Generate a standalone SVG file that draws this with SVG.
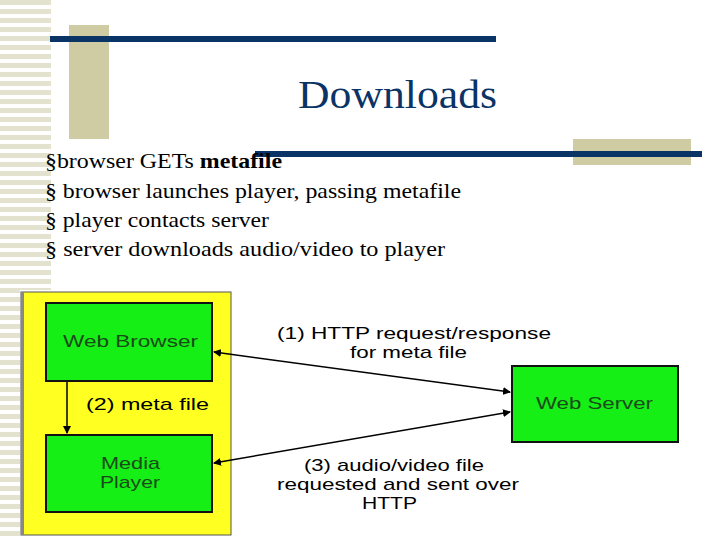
<svg xmlns="http://www.w3.org/2000/svg" width="720" height="540" viewBox="0 0 720 540">
<defs>
<pattern id="stripes" width="52" height="9" patternUnits="userSpaceOnUse"><rect width="52" height="5" fill="#e2e2cf"/></pattern>
<marker id="ah" markerWidth="8" markerHeight="8" refX="7" refY="4" orient="auto-start-reverse" markerUnits="userSpaceOnUse"><path d="M0,0 L8,4 L0,8 z" fill="#000"/></marker>
</defs>
<style>
.t{font-family:"Liberation Serif",serif;font-size:21px;fill:#000}
.n{font-family:"Liberation Sans",sans-serif;font-size:17px;fill:#1a4a1a}
.l{font-family:"Liberation Sans",sans-serif;font-size:17px;fill:#000}
.box{fill:#16ef16;stroke:#111;stroke-width:2}
</style>
<rect width="720" height="540" fill="#fff"/>
<rect x="0" y="0" width="51" height="290" fill="url(#stripes)"/>
<rect x="0" y="290" width="20" height="250" fill="url(#stripes)"/>
<rect x="69" y="25" width="40" height="114" fill="#cfcca4"/>
<rect x="50" y="36" width="446" height="6" fill="#0a3366"/>
<rect x="573" y="139" width="118" height="26" fill="#cfcca4"/>
<rect x="255" y="151" width="447" height="6" fill="#0a3366"/>
<text x="298" y="108" font-family="Liberation Serif,serif" font-size="40" fill="#0a3366" textLength="199" lengthAdjust="spacingAndGlyphs">Downloads</text>
<text class="t" x="45" y="168" textLength="237" lengthAdjust="spacingAndGlyphs">§browser GETs <tspan font-weight="bold">metafile</tspan></text>
<text class="t" x="45" y="198" textLength="416" lengthAdjust="spacingAndGlyphs">§ browser launches player, passing metafile</text>
<text class="t" x="45" y="227" textLength="224" lengthAdjust="spacingAndGlyphs">§ player contacts server</text>
<text class="t" x="45" y="256" textLength="400" lengthAdjust="spacingAndGlyphs">§ server downloads audio/video to  player</text>
<rect x="21" y="292" width="210" height="243" fill="#ffff22" stroke="#555" stroke-width="1"/>
<rect x="21" y="292" width="3" height="243" fill="#888"/>
<g id="browser"><rect class="box" x="46" y="303" width="166" height="78"/><text class="n" x="63" y="347" textLength="135" lengthAdjust="spacingAndGlyphs">Web Browser</text></g>
<g id="player"><rect class="box" x="46" y="435" width="166" height="77"/><text class="n" x="101" y="469" textLength="59" lengthAdjust="spacingAndGlyphs">Media</text><text class="n" x="100" y="488" textLength="60" lengthAdjust="spacingAndGlyphs">Player</text></g>
<g id="server"><rect class="box" x="512" y="366" width="166" height="76"/><text class="n" x="536" y="409" textLength="117" lengthAdjust="spacingAndGlyphs">Web Server</text></g>
<g id="connectors" stroke="#000" stroke-width="1.5" fill="none">
<line x1="67" y1="382" x2="67" y2="433" marker-end="url(#ah)"/>
<line x1="214" y1="352" x2="510" y2="392" marker-start="url(#ah)" marker-end="url(#ah)"/>
<line x1="214" y1="463" x2="510" y2="412" marker-start="url(#ah)" marker-end="url(#ah)"/>
</g>
<text class="l" x="86" y="410" textLength="123" lengthAdjust="spacingAndGlyphs">(2)  meta file</text>
<text class="l" x="277" y="339" textLength="274" lengthAdjust="spacingAndGlyphs">(1) HTTP request/response</text>
<text class="l" x="350" y="358" textLength="117" lengthAdjust="spacingAndGlyphs">for meta file</text>
<text class="l" x="304" y="471" textLength="180" lengthAdjust="spacingAndGlyphs">(3) audio/video file</text>
<text class="l" x="277" y="490" textLength="242" lengthAdjust="spacingAndGlyphs">requested and sent over</text>
<text class="l" x="362" y="509" textLength="55" lengthAdjust="spacingAndGlyphs">HTTP</text>
</svg>
